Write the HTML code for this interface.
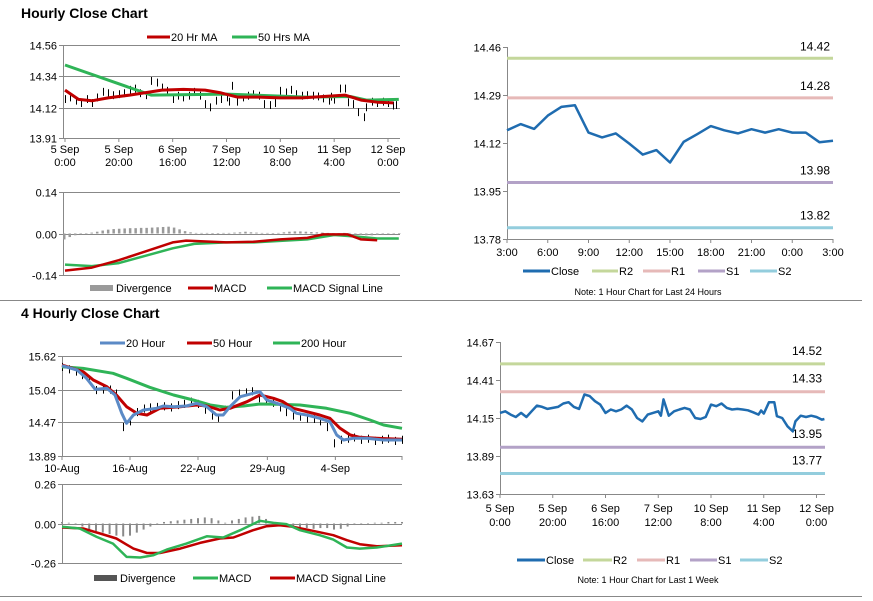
<!DOCTYPE html>
<html><head><meta charset="utf-8"><style>
html,body{margin:0;padding:0;background:#fff;}
svg{display:block;font-family:"Liberation Sans",Arial,sans-serif;}
</style></head><body>
<svg id="c" width="873" height="601" viewBox="0 0 873 601" xmlns="http://www.w3.org/2000/svg">
<text x="21" y="18" font-size="14" font-weight="bold" fill="#000">Hourly Close Chart</text>
<text x="21" y="318" font-size="14" font-weight="bold" fill="#000">4 Hourly Close Chart</text>
<line x1="0" y1="300.5" x2="862" y2="300.5" stroke="#888" stroke-width="1"/>
<line x1="0" y1="596.5" x2="862" y2="596.5" stroke="#888" stroke-width="1"/>
</svg>
<script>
// ---- Data ----
const weekHours=[0,2,4,6,8,10,12,14,16,18,20,22,24,26,28,30,32,34,36,38,40,42,44,46,48,50,52,54,56,58,60,61,62,64,66,68,70,72,74,76,78,80,82,84,86,88,90,92,94,96,98,99,100,102,104,105,107,109,111,112,114,116,118,120,122,123];
const weekClose=[14.185,14.196,14.173,14.157,14.185,14.157,14.196,14.235,14.226,14.212,
14.219,14.226,14.249,14.258,14.226,14.212,14.311,14.300,14.265,14.242,
14.185,14.208,14.196,14.208,14.235,14.208,14.150,14.127,14.173,14.185,
14.196,14.166,14.277,14.166,14.196,14.208,14.219,14.208,14.150,14.143,
14.157,14.242,14.231,14.249,14.219,14.208,14.212,14.208,14.203,14.189,
14.173,14.201,14.180,14.258,14.258,14.162,14.150,14.093,14.058,14.127,
14.166,14.157,14.166,14.157,14.139,14.143];
const weekTickLabels=[["5 Sep","0:00"],["5 Sep","20:00"],["6 Sep","16:00"],["7 Sep","12:00"],["10 Sep","8:00"],["11 Sep","4:00"],["12 Sep","0:00"]];
const weekTickHours=[0,20,40,60,80,100,120];
const ma20Hours=[0,5,10,16,24,36,44,52,58,64,72,80,88,96,104,110,116,122];
const ma20Values=[14.245,14.18,14.17,14.19,14.21,14.245,14.25,14.245,14.225,14.196,14.196,14.19,14.19,14.20,14.21,14.175,14.16,14.155];
const ma50Hours=[0,32,60,90,106,112,124];
const ma50Values=[14.42,14.21,14.217,14.196,14.20,14.175,14.18];
const h1MacdHours=[0,10,20,30,40,45,60,70,80,90,96,105,110,116];
const h1MacdValues=[-0.125,-0.115,-0.09,-0.06,-0.03,-0.024,-0.03,-0.028,-0.02,-0.015,-0.003,-0.003,-0.02,-0.023];
const h1SignalHours=[0,10,20,30,40,48,60,70,80,90,100,108,116,124];
const h1SignalValues=[-0.105,-0.11,-0.10,-0.075,-0.05,-0.035,-0.03,-0.03,-0.025,-0.02,-0.005,-0.01,-0.017,-0.017];
const h1Divergence=[-0.02,-0.012,-0.006,-0.002,0,0.003,0.006,0.01,0.013,0.015,0.016,0.017,0.018,0.018,0.019,0.019,0.02,0.021,0.022,0.023,0.02,0.014,0.008,0.004,0.002,0.002,0.002,0.001,0.001,0.002,0.002,0.003,0.004,0.006,0.004,0.003,0.002,0.002,0.001,0.002,0.004,0.006,0.007,0.007,0.006,0.005,0.004,0.003,0.002,0.001,0.001,0.002,0.002,-0.003,-0.005,-0.006,-0.006,-0.005,-0.003,-0.002,-0.001,0.001];

const h4Dates=["10-Aug","16-Aug","22-Aug","29-Aug","4-Sep"];
const h4DateIdx=[0,10,20,30.2,40.2];
const h4Close=[15.44,15.40,15.36,15.30,15.22,15.04,15.05,15.05,14.98,14.40,14.50,14.66,14.72,14.74,14.75,14.76,14.74,14.78,14.80,14.84,14.80,14.70,14.60,14.56,14.70,14.95,14.98,15.00,15.02,14.90,14.86,14.82,14.74,14.66,14.60,14.58,14.55,14.54,14.50,14.40,14.12,14.18,14.20,14.22,14.18,14.20,14.16,14.18,14.20,14.16,14.18];
const ma20hIdx=[0,2.2,3.6,4.9,6.6,7.8,8.8,9.5,10.5,12,13.9,14.9,16.4,18.3,19.8,21.3,22.7,23.7,24.7,26.2,28.1,29.1,30.1,31.6,33.5,34.5,36,37.9,39.4,40.4,41.4,42.8,44.8,47.3,50];
const ma20hValues=[15.452,15.378,15.234,15.043,15.061,14.945,14.628,14.455,14.599,14.686,14.715,14.755,14.743,14.755,14.802,14.743,14.599,14.599,14.743,14.916,14.975,15.003,14.859,14.802,14.715,14.628,14.599,14.542,14.483,14.253,14.167,14.196,14.196,14.167,14.167];
const ma50hIdx=[0,3.1,4.6,6.6,8,9.5,11,12.5,14.4,17.4,19.8,21.3,23.2,24.7,27.2,29.1,31.1,32.5,34,36,37.9,39.4,40.9,42.4,43.8,46.3,50];
const ma50hValues=[15.464,15.349,15.205,15.089,14.945,14.743,14.628,14.599,14.715,14.743,14.772,14.755,14.686,14.715,14.830,14.945,14.888,14.830,14.715,14.657,14.599,14.542,14.369,14.253,14.213,14.196,14.179];
const ma200hIdx=[0,3.1,7.5,9.5,12.9,16.4,19.3,21.8,24.2,26.7,29.1,31.6,35,38.9,42.4,45.3,47.3,50];
const ma200hValues=[15.435,15.406,15.320,15.234,15.078,14.945,14.859,14.772,14.732,14.755,14.790,14.784,14.772,14.715,14.628,14.513,14.426,14.369];
const h4MacdIdx=[0,2.6,5.1,7.5,9.5,11.5,13.4,15.4,18.3,21.3,23.7,26.2,29.1,31.1,33,35,37.9,39.9,41.9,43.8,46.3,50];
const h4MacdValues=[-0.022,-0.033,-0.088,-0.132,-0.22,-0.224,-0.209,-0.172,-0.132,-0.084,-0.092,-0.044,0.018,0.004,-0.004,-0.044,-0.077,-0.106,-0.158,-0.165,-0.158,-0.132];
const h4SignalIdx=[0,3.1,5.6,8,10.5,12.5,14.4,17.4,20.3,23.2,25.2,28.1,30.1,32,34,36.9,39.9,41.9,43.8,46.3,50];
const h4SignalValues=[-0.026,-0.033,-0.066,-0.099,-0.165,-0.194,-0.194,-0.165,-0.128,-0.099,-0.092,-0.044,-0.018,-0.011,-0.022,-0.048,-0.077,-0.11,-0.136,-0.15,-0.143];
const h4Divergence=[0.01,0.005,-0.01,-0.02,-0.04,-0.05,-0.06,-0.07,-0.08,-0.085,-0.08,-0.06,-0.04,-0.02,0,0.01,0.015,0.02,0.025,0.03,0.035,0.04,0.035,0.02,0.005,0.02,0.03,0.04,0.045,0.05,0.03,0.01,-0.005,-0.01,-0.02,-0.025,-0.03,-0.035,-0.03,-0.03,-0.04,-0.035,-0.02,-0.01,-0.005,0,0.005,0.005,0.01,0.01,0.01];

const dayHours=[0,1,2,3,4,5,6,7,8,9,10,11,12,13,14,15,16,17,18,19,20,21,22,23,24];
const dayClose=[14.165,14.187,14.170,14.217,14.248,14.254,14.157,14.140,14.154,14.118,14.079,14.095,14.051,14.124,14.151,14.180,14.165,14.154,14.169,14.157,14.169,14.157,14.157,14.123,14.128];
const dayTickLabels=["3:00","6:00","9:00","12:00","15:00","18:00","21:00","0:00","3:00"];
const dayTickHours=[0,3,6,9,12,15,18,21,24];
const dayLevels=[14.42,14.28,13.98,13.82];
const weekLevels=[14.52,14.33,13.95,13.77];
const levelNames=["R2","R1","S1","S2"];
const levelColors=["#c4d79b","#e6b9b8","#b3a2c7","#93cddd"];

// ---- Helpers ----
const svg=document.getElementById('c');
const NS="http://www.w3.org/2000/svg";
function lin(d0,d1,p0,p1){return v=>p0+(v-d0)/(d1-d0)*(p1-p0);}
function mk(tag,attrs){const e=document.createElementNS(NS,tag);for(const k in attrs)e.setAttribute(k,attrs[k]);svg.appendChild(e);return e;}
function txt(x,y,s,anchor,size,name){const e=mk('text',{x:x,y:y,'font-size':size||11,'text-anchor':anchor||'start',fill:'#000'});e.textContent=s;


return e;}
function ln(x1,y1,x2,y2,color,w,name){const e=mk('line',{x1:x1,y1:y1,x2:x2,y2:y2,stroke:color,'stroke-width':w});


return e;}
function path(xs,ys,sx,sy,color,w,name){let d='';for(let i=0;i<xs.length;i++)d+=(i?'L':'M')+sx(xs[i]).toFixed(1)+','+sy(ys[i]).toFixed(1);
const e=mk('path',{d:d,fill:'none',stroke:color,'stroke-width':w,'stroke-linejoin':'round'});


return e;}
function legendLine(x1,x2,y,color,w,label,name){
ln(x1,y,x2,y,color,w,name+'-swatch');
txt(x2+1,y+4,label,'start',11,name+'-label');}
function legendBar(x1,x2,y,color,label,name){
const e=mk('rect',{x:x1,y:y-3,width:x2-x1,height:6,fill:color});


txt(x2+3,y+4,label,'start',11,name+'-label');}
function yAxisGrid(ticks,sy,x0,x1,fmt,name,grid){
ticks.forEach((t,i)=>{const y=Math.round(sy(t))+0.5;
if(grid)ln(x0,y,x1,y,'#888',1,name+'-gridline');
ln(x0-4,y,x0,y,'#888',1,name+'-tick');
txt(x0-6,y+4,t.toFixed(2),'end',11,name+'-tick-label');});
ln(x0+0.5,sy(ticks[ticks.length-1]),x0+0.5,sy(ticks[0]),'#888',1,name+'-line');}

// ---- Panel 1: hourly price ----
const p1x=lin(0,120,65,388), p1y=lin(13.91,14.56,138,45);
yAxisGrid([13.91,14.12,14.34,14.56],p1y,63,400,null,'p1-y-axis',true);
weekTickHours.forEach((h,i)=>{const x=p1x(h);ln(x,138,x,142,'#888',1,'p1-x-tick');
txt(x,153,weekTickLabels[i][0],'middle',11,'p1-x-label');txt(x,166,weekTickLabels[i][1],'middle',11,'p1-x-label');});
weekHours.forEach((h,i)=>{const x=Math.round(p1x(h))+0.5;ln(x,p1y(weekClose[i]+0.025),x,p1y(weekClose[i]-0.03),'#000',1,'p1-price-bar');});
path(ma50Hours,ma50Values,p1x,p1y,'#2fb457',3,'p1-ma50-line');
path(ma20Hours,ma20Values,p1x,p1y,'#c00000',3,'p1-ma20-line');
legendLine(147,170,37,'#c00000',3,'20 Hr MA','p1-legend-ma20');
legendLine(232,257,37,'#2fb457',3,'50 Hrs MA','p1-legend-ma50');

// ---- Panel 2: hourly MACD ----
const p2y=lin(-0.14,0.14,275,192), p2x=lin(0,122,63,398);
yAxisGrid([-0.14,0.00,0.14],p2y,63,400,null,'p2-y-axis',true);
h1Divergence.forEach((v,i)=>{const x=p2x(i*2);const y0=p2y(0),y1=p2y(v);
const r=mk('rect',{x:x,y:Math.min(y0,y1),width:2.5,height:Math.max(0.6,Math.abs(y1-y0)),fill:'#9a9a9a'});

});
path(h1SignalHours,h1SignalValues,p1x,p2y,'#2fb457',2.5,'p2-signal-line');
path(h1MacdHours,h1MacdValues,p1x,p2y,'#c00000',2.5,'p2-macd-line');
legendBar(90,113,288,'#9a9a9a','Divergence','p2-legend-divergence');
legendLine(188,213,288,'#c00000',3,'MACD','p2-legend-macd');
legendLine(267,292,288,'#2fb457',3,'MACD Signal Line','p2-legend-signal');

// ---- Panel 3: 4-hourly price ----
const p3x=lin(0,50,62,402), p3y=lin(13.89,15.62,456,356);
yAxisGrid([13.89,14.47,15.04,15.62],p3y,62,402,null,'p3-y-axis',true);
h4DateIdx.forEach((d,i)=>{const x=p3x(d);ln(x,456,x,460,'#888',1,'p3-x-tick');txt(x,472,h4Dates[i],'middle',11,'p3-x-label');});
ln(402,456,402,460,'#888',1,'p3-x-tick');
h4Close.forEach((v,i)=>{const x=Math.round(p3x(i))+0.5;ln(x,p3y(v+0.06),x,p3y(v-0.08),'#000',1,'p3-price-bar');});
path(ma200hIdx,ma200hValues,p3x,p3y,'#2fb457',3,'p3-ma200-line');
path(ma50hIdx,ma50hValues,p3x,p3y,'#c00000',3,'p3-ma50-line');
path(ma20hIdx,ma20hValues,p3x,p3y,'#5b8ac6',3,'p3-ma20-line');
legendLine(100,125,343,'#5b8ac6',3,'20 Hour','p3-legend-20');
legendLine(187,212,343,'#c00000',3,'50 Hour','p3-legend-50');
legendLine(273,300,343,'#2fb457',3,'200 Hour','p3-legend-200');

// ---- Panel 4: 4-hourly MACD ----
const p4y=lin(-0.26,0.26,563,484);
yAxisGrid([-0.26,0.00,0.26],p4y,62,402,null,'p4-y-axis',true);
h4Divergence.forEach((v,i)=>{const x=p3x(i)-1;const y0=p4y(0),y1=p4y(v);
const r=mk('rect',{x:x,y:Math.min(y0,y1),width:2,height:Math.max(0.6,Math.abs(y1-y0)),fill:'#8a8a8a'});

});
path(h4SignalIdx,h4SignalValues,p3x,p4y,'#c00000',2.5,'p4-signal-line');
path(h4MacdIdx,h4MacdValues,p3x,p4y,'#2fb457',2.5,'p4-macd-line');
legendBar(94,117,578,'#555','Divergence','p4-legend-divergence');
legendLine(193,218,578,'#2fb457',3,'MACD','p4-legend-macd');
legendLine(270,295,578,'#c00000',3,'MACD Signal Line','p4-legend-signal');

// ---- Panel 5: 24h close with levels ----
const p5x=lin(0,24,507,833), p5y=lin(13.78,14.46,239,47);
yAxisGrid([13.78,13.95,14.12,14.29,14.46],p5y,507,833,null,'p5-y-axis',false);
ln(507,239.5,833,239.5,'#888',1,'p5-x-axis');
dayTickHours.forEach((h,i)=>{const x=p5x(h);ln(x,239,x,243,'#888',1,'p5-x-tick');txt(x,256,dayTickLabels[i],'middle',11,'p5-x-label');});
dayLevels.forEach((v,i)=>{ln(507,p5y(v),833,p5y(v),levelColors[i],3,'p5-level-'+levelNames[i]);txt(830,p5y(v)-8,v.toFixed(2),'end',12,'p5-level-label');});
path(dayHours,dayClose,p5x,p5y,'#1f6cb0',2.5,'p5-close-line');
legendLine(523,550,271,'#1f6cb0',3,'Close','p5-legend-close');
[[592,618],[643,670],[698,725],[750,777]].forEach((p,i)=>legendLine(p[0],p[1],271,levelColors[i],3,levelNames[i],'p5-legend-'+levelNames[i]));
txt(648,295,'Note: 1 Hour Chart for Last 24 Hours','middle',9,'p5-note');

// ---- Panel 6: week close with levels ----
const p6x=lin(0,120,500,816.5), p6y=lin(13.63,14.67,494,342);
yAxisGrid([13.63,13.89,14.15,14.41,14.67],p6y,500,825,null,'p6-y-axis',false);
ln(500,494.5,825,494.5,'#888',1,'p6-x-axis');
weekTickHours.forEach((h,i)=>{const x=p6x(h);ln(x,494,x,498,'#888',1,'p6-x-tick');
txt(x,512,weekTickLabels[i][0],'middle',11,'p6-x-label');txt(x,526,weekTickLabels[i][1],'middle',11,'p6-x-label');});
weekLevels.forEach((v,i)=>{ln(500,p6y(v),825,p6y(v),levelColors[i],3,'p6-level-'+levelNames[i]);txt(822,p6y(v)-9,v.toFixed(2),'end',12,'p6-level-label');});
path(weekHours,weekClose,p6x,p6y,'#1f6cb0',2.5,'p6-close-line');
legendLine(517,545,560,'#1f6cb0',3,'Close','p6-legend-close');
[[583,612],[637,665],[690,717],[740,768]].forEach((p,i)=>legendLine(p[0],p[1],560,levelColors[i],3,levelNames[i],'p6-legend-'+levelNames[i]));
txt(648,583,'Note: 1 Hour Chart for Last 1 Week','middle',9,'p6-note');
</script>
</body></html>
